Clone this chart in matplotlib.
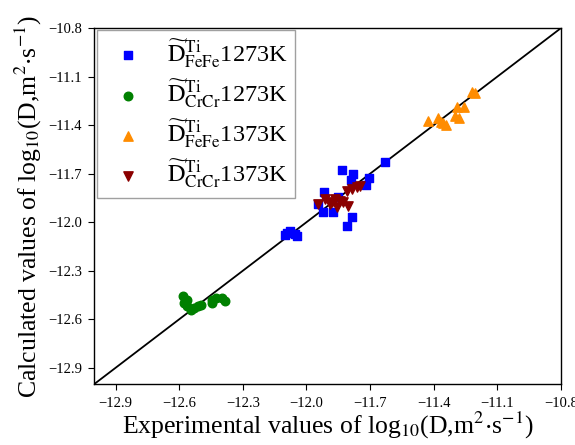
import numpy as np
import matplotlib
matplotlib.use('Agg')
import matplotlib.pyplot as plt

plt.rcParams['font.family'] = ['Liberation Serif', 'DejaVu Serif']
plt.rcParams['mathtext.fontset'] = 'stix'

# FeFe 1273K (blue squares)
fefe1273_exp = [-11.63, -11.833, -11.781, -11.791, -11.706, -11.720, -11.918, -11.947,
                -11.923, -11.876, -11.786, -11.810, -12.093, -12.079, -12.055, -12.103,
                -12.046, -11.852]
fefe1273_cal = [-11.630, -11.678, -11.702, -11.739, -11.727, -11.770, -11.813, -11.887,
                -11.936, -11.936, -11.967, -12.022, -12.065, -12.053, -12.071, -12.077,
                -12.084, -11.844]

# CrCr 1273K (green circles)
crcr1273_exp = [-12.580, -12.565, -12.575, -12.561, -12.542, -12.528, -12.513, -12.495,
                -12.447, -12.424, -12.400, -12.386, -12.443]
crcr1273_cal = [-12.458, -12.482, -12.501, -12.519, -12.544, -12.532, -12.519, -12.513,
                -12.482, -12.470, -12.470, -12.489, -12.501]

# FeFe 1373K (orange triangles)
fefe1373_exp = [-11.219, -11.205, -11.290, -11.257, -11.300, -11.281, -11.427, -11.380,
                -11.356, -11.342, -11.366]
fefe1373_cal = [-11.193, -11.199, -11.285, -11.285, -11.346, -11.353, -11.377, -11.353,
                -11.389, -11.402, -11.383]

# CrCr 1373K (dark red down triangles)
crcr1373_exp = [-11.947, -11.914, -11.880, -11.866, -11.843, -11.829, -11.805, -11.857,
                -11.810, -11.786, -11.762, -11.748, -11.890]
crcr1373_cal = [-11.887, -11.856, -11.874, -11.856, -11.868, -11.874, -11.899, -11.905,
                -11.807, -11.794, -11.782, -11.776, -11.887]

ticks = [-12.9, -12.6, -12.3, -12.0, -11.7, -11.4, -11.1, -10.8]

fig = plt.figure(figsize=(5.75, 4.45), dpi=100)
ax = fig.add_axes([0.164, 0.137, 0.8117, 0.800])

# linha y = x
ax.plot([-13.0, -10.8], [-13.0, -10.8], color='black', lw=1.3, zorder=1)
ax.scatter(fefe1273_exp, fefe1273_cal, marker='s', s=28, color='#0000ff', zorder=2,
           label=r'$\widetilde{\mathrm{D}}_{\mathrm{FeFe}}^{\mathrm{Ti}}$1273K')
ax.scatter(crcr1273_exp, crcr1273_cal, marker='o', s=38, color='#008000', zorder=2,
           label=r'$\widetilde{\mathrm{D}}_{\mathrm{CrCr}}^{\mathrm{Ti}}$1273K')
ax.scatter(fefe1373_exp, fefe1373_cal, marker='^', s=45, color='#ff8c00', zorder=2,
           label=r'$\widetilde{\mathrm{D}}_{\mathrm{FeFe}}^{\mathrm{Ti}}$1373K')
ax.scatter(crcr1373_exp, crcr1373_cal, marker='v', s=45, color='#8b0000', zorder=3,
           label=r'$\widetilde{\mathrm{D}}_{\mathrm{CrCr}}^{\mathrm{Ti}}$1373K')

ax.set_xlim(-13.0, -10.8)
ax.set_ylim(-13.0, -10.8)
ax.set_xticks(ticks)
ax.set_yticks(ticks)
ax.set_xticklabels(['\u2212%.1f' % abs(t) for t in ticks])
ax.set_yticklabels(['\u2212%.1f' % abs(t) for t in ticks])
ax.tick_params(labelsize=10.5, length=4, width=0.8, direction='out', pad=5)
for sp in ax.spines.values():
    sp.set_linewidth(1.0)

ax.set_xlabel(r'Experimental values of log$_{10}$(D,m$^{2}$$\cdot$s$^{-1}$)', fontsize=18.5, labelpad=0)
ax.set_ylabel(r'Calculated values of log$_{10}$(D,m$^{2}$$\cdot$s$^{-1}$)', fontsize=18.5, labelpad=3)

leg = ax.legend(loc='upper left', fontsize=17.5, frameon=True, fancybox=False,
                edgecolor='#888888', borderaxespad=0.1, handletextpad=0.6,
                labelspacing=0.3, borderpad=0.3, markerscale=1.0)
leg.get_frame().set_linewidth(1.0)

plt.savefig('out.png', dpi=100)
